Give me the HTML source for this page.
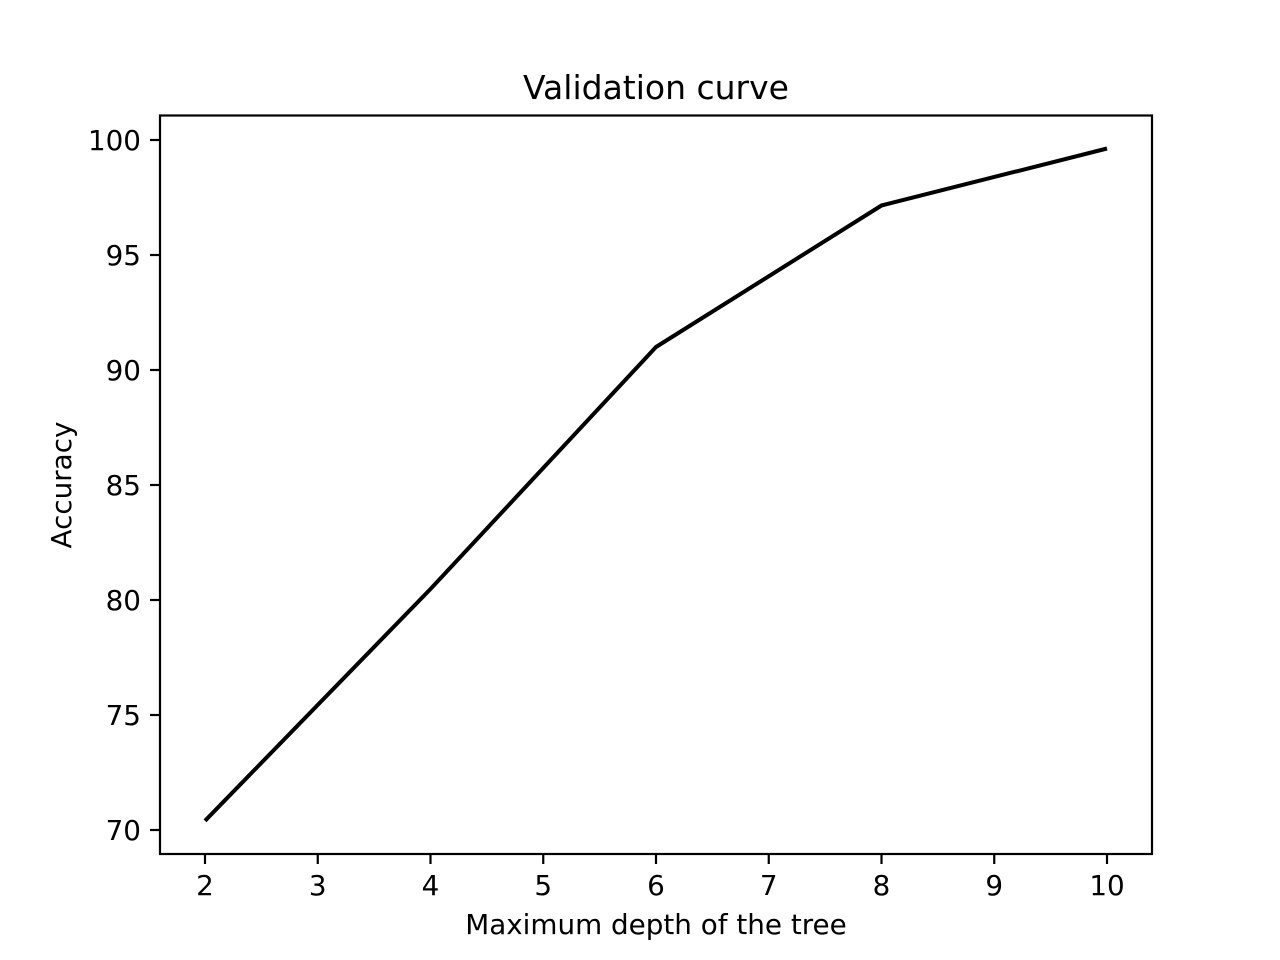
<!DOCTYPE html>
<html><head><meta charset="utf-8"><style>
html,body{margin:0;padding:0;background:#fff;}
svg{display:block;font-family:"DejaVu Sans","Liberation Sans",sans-serif;}
</style></head><body>
<svg width="1280" height="960" viewBox="0 0 1280 960" xmlns="http://www.w3.org/2000/svg">
<rect width="1280" height="960" fill="#fff"/>
<text x="656" y="99" font-size="33" text-anchor="middle" fill="#000">Validation curve</text>
<polyline points="205,820.8 430.5,589 656,347 881.5,205.5 1107,148.5" fill="none" stroke="#000" stroke-width="4" stroke-linejoin="round"/>
<rect x="160" y="115.5" width="992" height="738.5" fill="none" stroke="#000" stroke-width="2.2"/>
<g stroke="#000" stroke-width="2.2">
<line x1="205" y1="854" x2="205" y2="864"/>
<line x1="317.75" y1="854" x2="317.75" y2="864"/>
<line x1="430.5" y1="854" x2="430.5" y2="864"/>
<line x1="543.25" y1="854" x2="543.25" y2="864"/>
<line x1="656" y1="854" x2="656" y2="864"/>
<line x1="768.75" y1="854" x2="768.75" y2="864"/>
<line x1="881.5" y1="854" x2="881.5" y2="864"/>
<line x1="994.25" y1="854" x2="994.25" y2="864"/>
<line x1="1107" y1="854" x2="1107" y2="864"/>
<line x1="150" y1="830" x2="160" y2="830"/>
<line x1="150" y1="715" x2="160" y2="715"/>
<line x1="150" y1="600" x2="160" y2="600"/>
<line x1="150" y1="485" x2="160" y2="485"/>
<line x1="150" y1="370" x2="160" y2="370"/>
<line x1="150" y1="255" x2="160" y2="255"/>
<line x1="150" y1="140" x2="160" y2="140"/>
</g>
<g font-size="27.8" fill="#000" text-anchor="middle">
<text x="205" y="895">2</text>
<text x="317.75" y="895">3</text>
<text x="430.5" y="895">4</text>
<text x="543.25" y="895">5</text>
<text x="656" y="895">6</text>
<text x="768.75" y="895">7</text>
<text x="881.5" y="895">8</text>
<text x="994.25" y="895">9</text>
<text x="1107" y="895">10</text>
</g>
<g font-size="27.8" fill="#000" text-anchor="end">
<text x="141" y="840">70</text>
<text x="141" y="725">75</text>
<text x="141" y="610">80</text>
<text x="141" y="495">85</text>
<text x="141" y="380">90</text>
<text x="141" y="265">95</text>
<text x="141" y="150">100</text>
</g>
<text x="656" y="934" font-size="27.8" text-anchor="middle" fill="#000">Maximum depth of the tree</text>
<text transform="translate(71,485) rotate(-90)" font-size="27.8" text-anchor="middle" fill="#000">Accuracy</text>
</svg>
</body></html>
